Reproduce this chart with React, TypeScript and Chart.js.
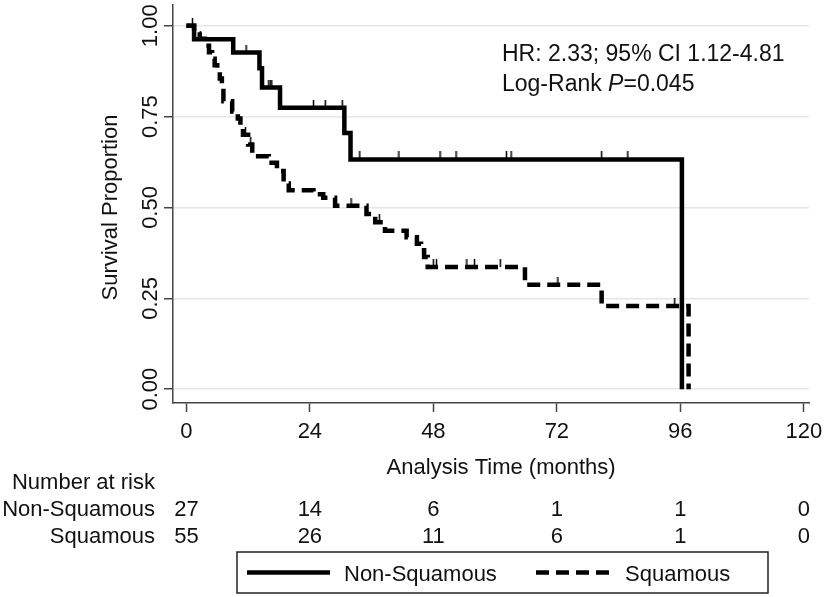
import React, { useEffect, useRef } from "react";
import { Chart, registerables } from "chart.js";

Chart.register(...registerables);

// ---------------- data ----------------
const xTicks = [0, 24, 48, 72, 96, 120];
const yTicks = [0, 0.25, 0.5, 0.75, 1];
const yTickLabels = ["0.00", "0.25", "0.50", "0.75", "1.00"];

const seriesNames = ["Non-Squamous", "Squamous"];

// Kaplan-Meier steps: time of event, survival after event
const nsTimes = [0, 1.5, 9.1, 14.2, 14.7, 18.2, 30.7, 31.9, 96.3];
const nsSurv = [1, 0.963, 0.926, 0.883, 0.83, 0.774, 0.705, 0.632, 0];
const nsCensor = [1.2, 2.7, 11.6, 16.0, 16.3, 16.6, 24.7, 27.0, 30.3, 33.7, 41.3, 49.3, 52.4, 62.2, 63.1, 80.7, 85.8];

const sqTimes = [0, 1.5, 2.6, 3.6, 4.4, 5.0, 5.5, 6.0, 6.5, 6.9, 7.2, 8.9, 10.0, 10.5, 11.0, 12.0, 12.8, 16.0, 17.6, 18.9, 19.9, 24.7, 26.6, 28.9, 35.0, 36.7, 38.6, 42.8, 44.8, 45.6, 46.2, 46.9, 65.8, 80.7, 97.6];
const sqSurv = [1, 0.982, 0.964, 0.945, 0.927, 0.909, 0.891, 0.873, 0.855, 0.836, 0.792, 0.764, 0.745, 0.723, 0.7, 0.673, 0.641, 0.623, 0.6, 0.566, 0.547, 0.536, 0.527, 0.505, 0.482, 0.459, 0.436, 0.418, 0.4, 0.382, 0.364, 0.336, 0.287, 0.229, 0];
const sqCensor = [11.5, 12.5, 29.0, 32.0, 37.5, 48.0, 48.6, 54.5, 56.0, 61.0, 72.2, 94.9];

const riskNonSq = [27, 14, 6, 1, 1, 0];
const riskSq = [55, 26, 11, 6, 1, 0];

const annotationLine1 = "HR: 2.33; 95% CI 1.12-4.81";
const annotationLine2 = ["Log-Rank ", "P", "=0.045"];
const xTitle = "Analysis Time (months)";
const yTitle = "Survival Proportion";
const riskTitle = "Number at risk";

// ---------------- helpers ----------------
function stepValue(times: number[], surv: number[], t: number) {
  let v = surv[0];
  for (let i = 0; i < times.length; i++) if (times[i] <= t) v = surv[i];
  return v;
}

function makeTick(): HTMLCanvasElement {
  const c = document.createElement("canvas");
  c.width = 3;
  c.height = 16;
  const g = c.getContext("2d")!;
  g.strokeStyle = "#000";
  g.lineWidth = 1.5;
  g.beginPath();
  g.moveTo(1.5, 0);
  g.lineTo(1.5, 8);
  g.stroke();
  return c;
}

const FAM = '"Liberation Sans", Arial, Helvetica, sans-serif';
const FONT = "22px " + FAM;
const FONT_A = "23px " + FAM;
const FONT_AI = "italic 23px " + FAM;
const TEXT = "#111";
const AXIS = "#454545";

const textPlugin = {
  id: "kmText",
  afterDraw(chart: any) {
    const ctx = chart.ctx as CanvasRenderingContext2D;
    const xs = chart.scales.x;
    const ys = chart.scales.y;
    const area = chart.chartArea;
    ctx.save();
    ctx.fillStyle = TEXT;
    ctx.font = FONT;

    // y tick labels (rotated)
    yTicks.forEach((v, i) => {
      ctx.save();
      ctx.translate(area.left - 16, ys.getPixelForValue(v));
      ctx.rotate(-Math.PI / 2);
      ctx.textAlign = "center";
      ctx.textBaseline = "alphabetic";
      ctx.fillText(yTickLabels[i], 0, 0);
      ctx.restore();
    });

    // y title
    ctx.save();
    ctx.translate(area.left - 56, (ys.getPixelForValue(0) + ys.getPixelForValue(1)) / 2);
    ctx.rotate(-Math.PI / 2);
    ctx.textAlign = "center";
    ctx.textBaseline = "alphabetic";
    ctx.fillText(yTitle, 0, 0);
    ctx.restore();

    // x tick labels
    ctx.textAlign = "center";
    ctx.textBaseline = "alphabetic";
    xTicks.forEach((v) => {
      ctx.fillText(String(v), xs.getPixelForValue(v), area.bottom + 35);
    });

    // x title
    const cx = (xs.getPixelForValue(0) + xs.getPixelForValue(120)) / 2 + 6;
    ctx.fillText(xTitle, cx, area.bottom + 71);

    // risk table
    ctx.textAlign = "right";
    const labelRight = 155;
    ctx.fillText(riskTitle, labelRight, area.bottom + 86);
    ctx.fillText(seriesNames[0], labelRight, area.bottom + 113);
    ctx.fillText(seriesNames[1], labelRight, area.bottom + 140);
    ctx.textAlign = "center";
    xTicks.forEach((v, i) => {
      const px = xs.getPixelForValue(v);
      ctx.fillText(String(riskNonSq[i]), px, area.bottom + 113);
      ctx.fillText(String(riskSq[i]), px, area.bottom + 140);
    });

    // annotation
    ctx.textAlign = "left";
    const ax = 502;
    ctx.font = FONT_A;
    ctx.fillText(annotationLine1, ax, 61);
    let x2 = ax;
    ctx.fillText(annotationLine2[0], x2, 91);
    x2 += ctx.measureText(annotationLine2[0]).width;
    ctx.font = FONT_AI;
    ctx.fillText(annotationLine2[1], x2, 91);
    x2 += ctx.measureText(annotationLine2[1]).width;
    ctx.font = FONT_A;
    ctx.fillText(annotationLine2[2], x2, 91);

    // legend box
    const lx = 237, ly = 552, lw = 531, lh = 41;
    ctx.strokeStyle = "#222";
    ctx.lineWidth = 1.5;
    ctx.strokeRect(lx, ly, lw, lh);
    const my = ly + lh / 2;
    ctx.strokeStyle = "#000";
    ctx.lineWidth = 4.5;
    ctx.beginPath();
    ctx.moveTo(247, my);
    ctx.lineTo(330, my);
    ctx.stroke();
    ctx.setLineDash([13, 7]);
    ctx.lineWidth = 4.5;
    ctx.beginPath();
    ctx.moveTo(536, my);
    ctx.lineTo(610, my);
    ctx.stroke();
    ctx.setLineDash([]);
    ctx.textBaseline = "alphabetic";
    ctx.textAlign = "left";
    ctx.font = FONT;
    ctx.fillText(seriesNames[0], 344, my + 8);
    ctx.fillText(seriesNames[1], 625, my + 8);

    ctx.restore();
  },
};

export default function App() {
  const ref = useRef<HTMLCanvasElement | null>(null);

  useEffect(() => {
    if (!ref.current) return;
    const tick = makeTick();
    const nsData = nsTimes.map((t, i) => ({ x: t, y: nsSurv[i] }));
    const sqData = sqTimes.map((t, i) => ({ x: t, y: sqSurv[i] }));
    const nsC = nsCensor.map((t) => ({ x: t, y: stepValue(nsTimes, nsSurv, t) }));
    const sqC = sqCensor.map((t) => ({ x: t, y: stepValue(sqTimes, sqSurv, t) }));

    const chart = new Chart(ref.current, {
      type: "line",
      data: {
        datasets: [
          {
            label: seriesNames[1],
            data: sqData,
            stepped: "before",
            borderColor: "#000",
            borderWidth: 4.5,
            borderDash: [13, 7],
            borderJoinStyle: "miter",
            pointRadius: 0,
            fill: false,
          },
          {
            label: seriesNames[0],
            data: nsData,
            stepped: "before",
            borderColor: "#000",
            borderWidth: 4.5,
            borderJoinStyle: "miter",
            pointRadius: 0,
            fill: false,
          },
          {
            label: "nsCensor",
            data: nsC,
            showLine: false,
            pointStyle: tick as any,
            pointRadius: 4,
          },
          {
            label: "sqCensor",
            data: sqC,
            showLine: false,
            pointStyle: tick as any,
            pointRadius: 4,
          },
        ] as any,
      },
      options: {
        animation: false,
        responsive: false,
        devicePixelRatio: 1,
        layout: { padding: { left: 0, top: 3, right: 15, bottom: 0 } },
        plugins: { legend: { display: false }, tooltip: { enabled: false } },
        scales: {
          x: {
            type: "linear",
            min: -2.6,
            max: 121,
            afterBuildTicks: (s: any) => {
              s.ticks = xTicks.map((v) => ({ value: v }));
            },
            afterFit: (s: any) => {
              s.height = 194;
            },
            ticks: { display: false },
            grid: {
              drawOnChartArea: false,
              drawTicks: true,
              tickLength: 9,
              tickColor: AXIS,
              tickWidth: 1.5,
            },
            border: { display: true, color: AXIS, width: 1.5 },
          },
          y: {
            type: "linear",
            min: -0.038,
            max: 1.057,
            afterBuildTicks: (s: any) => {
              s.ticks = yTicks.map((v) => ({ value: v }));
            },
            afterFit: (s: any) => {
              s.width = 173;
            },
            ticks: { display: false },
            grid: {
              color: "#e6e6e6",
              lineWidth: 1.5,
              drawTicks: true,
              tickLength: 9,
              tickColor: AXIS,
              tickWidth: 1.5,
            },
            border: { display: true, color: AXIS, width: 1.5 },
          },
        },
      } as any,
      plugins: [textPlugin],
    });
    return () => chart.destroy();
  }, []);

  return (
    <div style={{ position: "absolute", left: 0, top: 0, width: 824, height: 597, background: "#fff" }}>
      <canvas ref={ref} width={824} height={597} style={{ display: "block" }} />
    </div>
  );
}
